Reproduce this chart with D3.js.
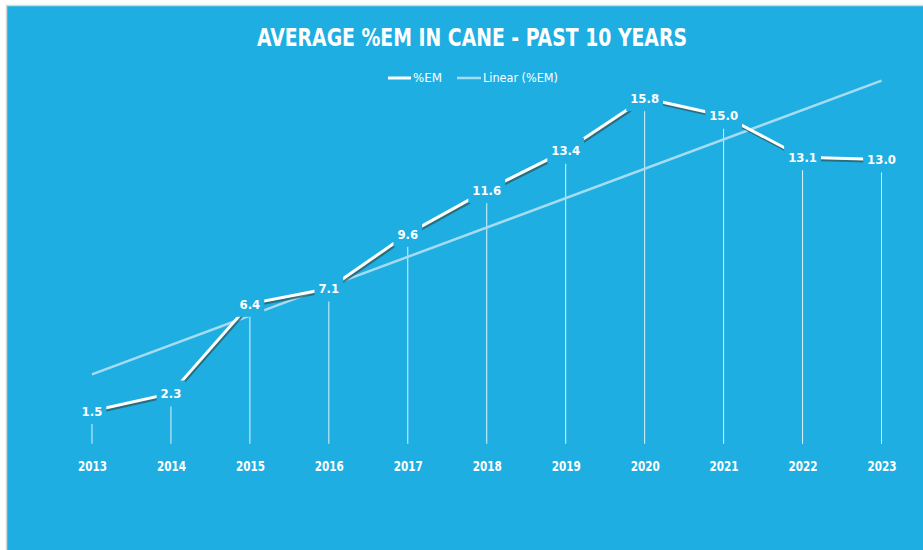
<!DOCTYPE html>
<html>
<head>
<meta charset="utf-8">
<script src="https://cdn.jsdelivr.net/npm/d3@7/dist/d3.min.js"></script>
<style>
  html, body { margin: 0; padding: 0; background: #ffffff; }
  svg { display: block; }
  text { font-family: "Liberation Sans Narrow", "DejaVu Sans Condensed", "Open Sans", sans-serif; fill: #ffffff; }
</style>
</head>
<body>
<svg id="chart" width="923" height="550"></svg>
<script>
// Average %EM in cane, 2013–2023
const years = ["2013", "2014", "2015", "2016", "2017", "2018", "2019", "2020", "2021", "2022", "2023"];
const emValues = [1.5, 2.3, 6.4, 7.1, 9.6, 11.6, 13.4, 15.8, 15.0, 13.1, 13.0];
const legendLabels = ["%EM", "Linear (%EM)"];
const titleText = "AVERAGE %EM IN CANE - PAST 10 YEARS";

const W = 923, H = 550;
const bg = "#1eaee2";
const svg = d3.select("#chart");

// panel with thin grey frame
svg.append("rect").attr("x", 6.5).attr("y", 5.5).attr("width", W).attr("height", H)
  .attr("fill", bg).attr("stroke", "#d4d8da").attr("stroke-width", 1.5);

const x = d3.scalePoint().domain(years).range([52.5, 921]).padding(0.5);
const y = d3.scaleLinear().domain([0, 18]).range([443.8, 50.1]);

// title
svg.append("text").attr("x", 472).attr("y", 46).attr("text-anchor", "middle")
  .style("font-weight", "bold").attr("font-size", 25)
  .attr("textLength", 430).attr("lengthAdjust", "spacingAndGlyphs")
  .text(titleText);

// legend
const legend = svg.append("g").style("font-weight", "normal");
legend.append("line").attr("x1", 388).attr("x2", 411).attr("y1", 78).attr("y2", 78)
  .attr("stroke", "#ffffff").attr("stroke-width", 3);
legend.append("text").attr("x", 413).attr("y", 82).attr("font-size", 12.5)
  .attr("textLength", 29).attr("lengthAdjust", "spacingAndGlyphs")
  .text(legendLabels[0]);
legend.append("line").attr("x1", 457).attr("x2", 481).attr("y1", 78).attr("y2", 78)
  .attr("stroke", "#a6dcf1").attr("stroke-width", 2.5);
legend.append("text").attr("x", 483).attr("y", 82).attr("font-size", 12.5)
  .attr("textLength", 75).attr("lengthAdjust", "spacingAndGlyphs")
  .text(legendLabels[1]);

// category axis labels
const xAxis = d3.axisBottom(x).tickSize(0).tickPadding(0);
const axisG = svg.append("g").attr("transform", `translate(0, ${y(0)})`).call(xAxis);
axisG.select(".domain").remove();
axisG.selectAll("text").attr("dy", 0).attr("y", 27).attr("font-size", 14.5)
  .attr("textLength", 29).attr("lengthAdjust", "spacingAndGlyphs")
  .attr("font-family", null).style("fill", "#ffffff").style("font-weight", "bold");

const pts = years.map((yr, i) => ({ yr, v: emValues[i] }));

// drop lines
svg.append("g").selectAll("line").data(pts).join("line")
  .attr("x1", d => x(d.yr)).attr("x2", d => x(d.yr))
  .attr("y1", d => y(d.v)).attr("y2", y(0))
  .attr("stroke", "#ffffff").attr("stroke-width", 1).attr("stroke-opacity", 0.85);

// least-squares linear trend
const n = emValues.length;
const mx = d3.mean(d3.range(n)), my = d3.mean(emValues);
const slope = d3.sum(d3.range(n), i => (i - mx) * (emValues[i] - my)) / d3.sum(d3.range(n), i => (i - mx) ** 2);
const icpt = my - slope * mx;
svg.append("line")
  .attr("x1", x(years[0])).attr("y1", y(icpt))
  .attr("x2", x(years[n - 1])).attr("y2", y(icpt + slope * (n - 1)))
  .attr("stroke", "#a6dcf1").attr("stroke-width", 2.5);

// series line with soft shadow
const defs = svg.append("defs");
defs.append("filter").attr("id", "soft").append("feGaussianBlur").attr("stdDeviation", 0.7);
const line = d3.line().x(d => x(d.yr)).y(d => y(d.v));
svg.append("path").datum(pts).attr("d", line).attr("fill", "none")
  .attr("stroke", "#2f5a5e").attr("stroke-opacity", 0.75).attr("stroke-width", 3)
  .attr("transform", "translate(1,2)").attr("filter", "url(#soft)");
svg.append("path").datum(pts).attr("d", line).attr("fill", "none")
  .attr("stroke", "#ffffff").attr("stroke-width", 3);

// data labels on panel-coloured boxes
const lab = svg.append("g").selectAll("g").data(pts).join("g")
  .attr("transform", d => `translate(${x(d.yr)}, ${y(d.v)})`);
lab.append("rect").attr("fill", bg);
lab.append("text").attr("text-anchor", "middle").attr("dy", "0.36em").attr("font-size", 13)
  .style("font-weight", "bold")
  .text(d => d.v.toFixed(1));
lab.each(function () {
  const g = d3.select(this);
  const bb = g.select("text").node().getBBox();
  g.select("rect").attr("x", -bb.width / 2 - 4).attr("y", -13)
    .attr("width", bb.width + 8).attr("height", 26);
});
</script>
</body>
</html>
